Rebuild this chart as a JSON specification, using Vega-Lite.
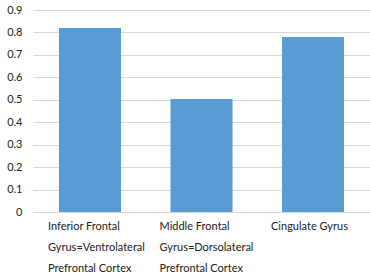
{
  "$schema": "https://vega.github.io/schema/vega-lite/v6.json",
  "autosize": "none",
  "width": 337,
  "height": 202,
  "padding": {"left": 33, "top": 10, "right": 0, "bottom": 66},
  "background": "white",
  "config": {"view": {"stroke": null}, "font": "Lato"},
  "data": {"values": [
    {"region": "Inferior Frontal Gyrus=Ventrolateral Prefrontal Cortex", "value": 0.82},
    {"region": "Middle Frontal Gyrus=Dorsolateral Prefrontal Cortex", "value": 0.503},
    {"region": "Cingulate Gyrus", "value": 0.78}
  ]},
  "mark": {"type": "bar", "color": "#5B9BD5"},
  "encoding": {
    "x": {
      "field": "region", "type": "nominal", "sort": null,
      "scale": {"paddingInner": 0.444, "paddingOuter": 0.233},
      "axis": {
        "title": null, "domain": false, "ticks": false, "labelAngle": 0,
        "labelAlign": "left", "labelBaseline": "top", "labelOffset": -42,
        "labelPadding": 8, "labelLineHeight": 21, "labelFontSize": 11,
        "labelColor": "#222", "labelLimit": 200,
        "labelExpr": "datum.value == 'Cingulate Gyrus' ? 'Cingulate Gyrus' : (indexof(datum.value, 'Inferior') == 0 ? ['Inferior Frontal', 'Gyrus=Ventrolateral', 'Prefrontal Cortex'] : ['Middle Frontal', 'Gyrus=Dorsolateral', 'Prefrontal Cortex'])"
      }
    },
    "y": {
      "field": "value", "type": "quantitative",
      "scale": {"domain": [0, 0.9], "nice": false},
      "axis": {
        "title": null, "domain": false, "ticks": false, "format": ".1~f",
        "values": [0, 0.1, 0.2, 0.3, 0.4, 0.5, 0.6, 0.7, 0.8, 0.9],
        "labelPadding": 11, "labelFontSize": 11, "labelColor": "#222",
        "gridColor": "#d9d9d9", "gridWidth": 1
      }
    }
  }
}
